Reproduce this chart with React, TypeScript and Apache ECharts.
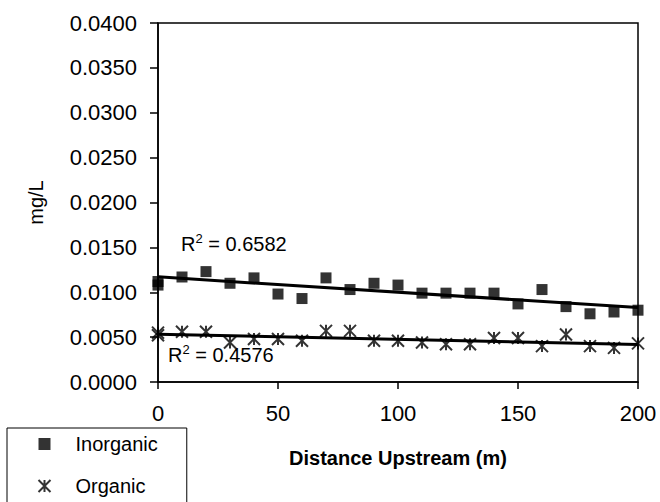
import React, { useEffect, useRef } from "react";
import * as echarts from "echarts";

const distances = [0, 0, 10, 20, 30, 40, 50, 60, 70, 80, 90, 100, 110, 120, 130, 140, 150, 160, 170, 180, 190, 200];
const inorganic = [0.0112, 0.0108, 0.0117, 0.0123, 0.011, 0.0116, 0.0098, 0.0093, 0.0116, 0.0103, 0.011, 0.0108, 0.0099, 0.0099, 0.0099, 0.0099, 0.0087, 0.0103, 0.0084, 0.0076, 0.0078, 0.008];
const organic = [0.0055, 0.0052, 0.0056, 0.0056, 0.0044, 0.0048, 0.0048, 0.0046, 0.0057, 0.0057, 0.0046, 0.0046, 0.0044, 0.0042, 0.0042, 0.0049, 0.0049, 0.004, 0.0053, 0.004, 0.0038, 0.0043];
const yTicks = { min: 0, max: 0.04, interval: 0.005 };
const xTicks = { min: 0, max: 200, interval: 50 };
const r2Labels = ["0.6582", "0.4576"];

const FONT = '"Liberation Sans", Arial, sans-serif';
const ASTERISK = "path://M0 0L12 12M12 0L0 12M6 0L6 12";
const SQUARE = "path://M0 0H10V10H0Z";

function fit(xs: number[], ys: number[]) {
  const n = xs.length;
  const mx = xs.reduce((a, b) => a + b, 0) / n;
  const my = ys.reduce((a, b) => a + b, 0) / n;
  let sxy = 0, sxx = 0;
  for (let i = 0; i < n; i++) {
    sxy += (xs[i] - mx) * (ys[i] - my);
    sxx += (xs[i] - mx) ** 2;
  }
  const b = sxy / sxx;
  const a = my - b * mx;
  return [
    [xTicks.min, a + b * xTicks.min],
    [xTicks.max, a + b * xTicks.max],
  ];
}

export default function App() {
  const ref = useRef<HTMLDivElement>(null);
  useEffect(() => {
    document.body.style.margin = "0";
    const chart = echarts.init(ref.current!, null, { renderer: "svg" });
    const inorgPts = distances.map((d, i) => [d, inorganic[i]]);
    const orgPts = distances.map((d, i) => [d, organic[i]]);
    const rich = {
      r: { fontSize: 20, fill: "#000", fontFamily: FONT, verticalAlign: "bottom", lineHeight: 22 },
      s: { fontSize: 13, fill: "#000", fontFamily: FONT, verticalAlign: "top", lineHeight: 22 },
    };
    chart.setOption({
      animation: false,
      backgroundColor: "#fff",
      textStyle: { fontFamily: FONT, color: "#000" },
      grid: {
        left: 158,
        right: 22,
        top: 23,
        bottom: 120,
        show: true,
        borderColor: "#000",
        borderWidth: 1.5,
        backgroundColor: "#fff",
      },
      xAxis: {
        type: "value",
        min: xTicks.min,
        max: xTicks.max,
        interval: xTicks.interval,
        name: "Distance Upstream (m)",
        nameLocation: "middle",
        nameGap: 66,
        nameTextStyle: { fontSize: 20, fontWeight: "bold", color: "#000", fontFamily: FONT },
        axisLine: { lineStyle: { color: "#000", width: 1.5 } },
        axisTick: { length: 7, lineStyle: { color: "#000", width: 1.5 } },
        axisLabel: { fontSize: 22, color: "#000", margin: 20, fontFamily: FONT },
        splitLine: { show: false },
      },
      yAxis: {
        type: "value",
        min: yTicks.min,
        max: yTicks.max,
        interval: yTicks.interval,
        name: "mg/L",
        nameLocation: "middle",
        nameGap: 112,
        nameTextStyle: { fontSize: 20, color: "#000", fontFamily: FONT },
        axisLine: { show: true, lineStyle: { color: "#000", width: 1.5 } },
        axisTick: { show: true, length: 8, lineStyle: { color: "#000", width: 1.5 } },
        axisLabel: {
          fontSize: 22,
          color: "#000",
          margin: 21,
          fontFamily: FONT,
          formatter: (v: number) => v.toFixed(4),
        },
        splitLine: { show: false },
      },
      legend: {
        orient: "vertical",
        left: 7,
        top: 428,
        height: 200,
        padding: [6, 29, 30, 29],
        itemGap: 22,
        itemWidth: 52,
        itemHeight: 12,
        symbolKeepAspect: true,
        borderColor: "#000",
        borderWidth: 1,
        backgroundColor: "#fff",
        textStyle: { fontSize: 20, color: "#000", fontFamily: FONT },
        data: [
          { name: "Inorganic", icon: SQUARE },
          { name: "Organic", icon: ASTERISK },
        ],
      },
      graphic: [
        {
          type: "text",
          left: 181,
          top: 232,
          style: { text: "{r|R}{s|2}{r| = " + r2Labels[0] + "}", rich },
        },
        {
          type: "text",
          left: 168,
          top: 343,
          style: { text: "{r|R}{s|2}{r| = " + r2Labels[1] + "}", rich },
        },
      ],
      series: [
        {
          name: "Inorganic",
          type: "scatter",
          data: inorgPts,
          symbol: "rect",
          symbolSize: 11,
          itemStyle: { color: "#000" },
          z: 3,
        },
        {
          name: "Organic",
          type: "scatter",
          data: orgPts,
          symbol: ASTERISK,
          symbolSize: 12,
          itemStyle: { color: "none", borderColor: "#000", borderWidth: 2 },
          z: 3,
        },
        {
          name: "Inorganic trend",
          type: "line",
          data: fit(distances, inorganic),
          showSymbol: false,
          symbol: "none",
          lineStyle: { color: "#000", width: 3 },
          silent: true,
          z: 4,
        },
        {
          name: "Organic trend",
          type: "line",
          data: fit(distances, organic),
          showSymbol: false,
          symbol: "none",
          lineStyle: { color: "#000", width: 3 },
          silent: true,
          z: 4,
        },
      ],
    });
    return () => chart.dispose();
  }, []);
  return <div ref={ref} style={{ width: 660, height: 502 }} />;
}
